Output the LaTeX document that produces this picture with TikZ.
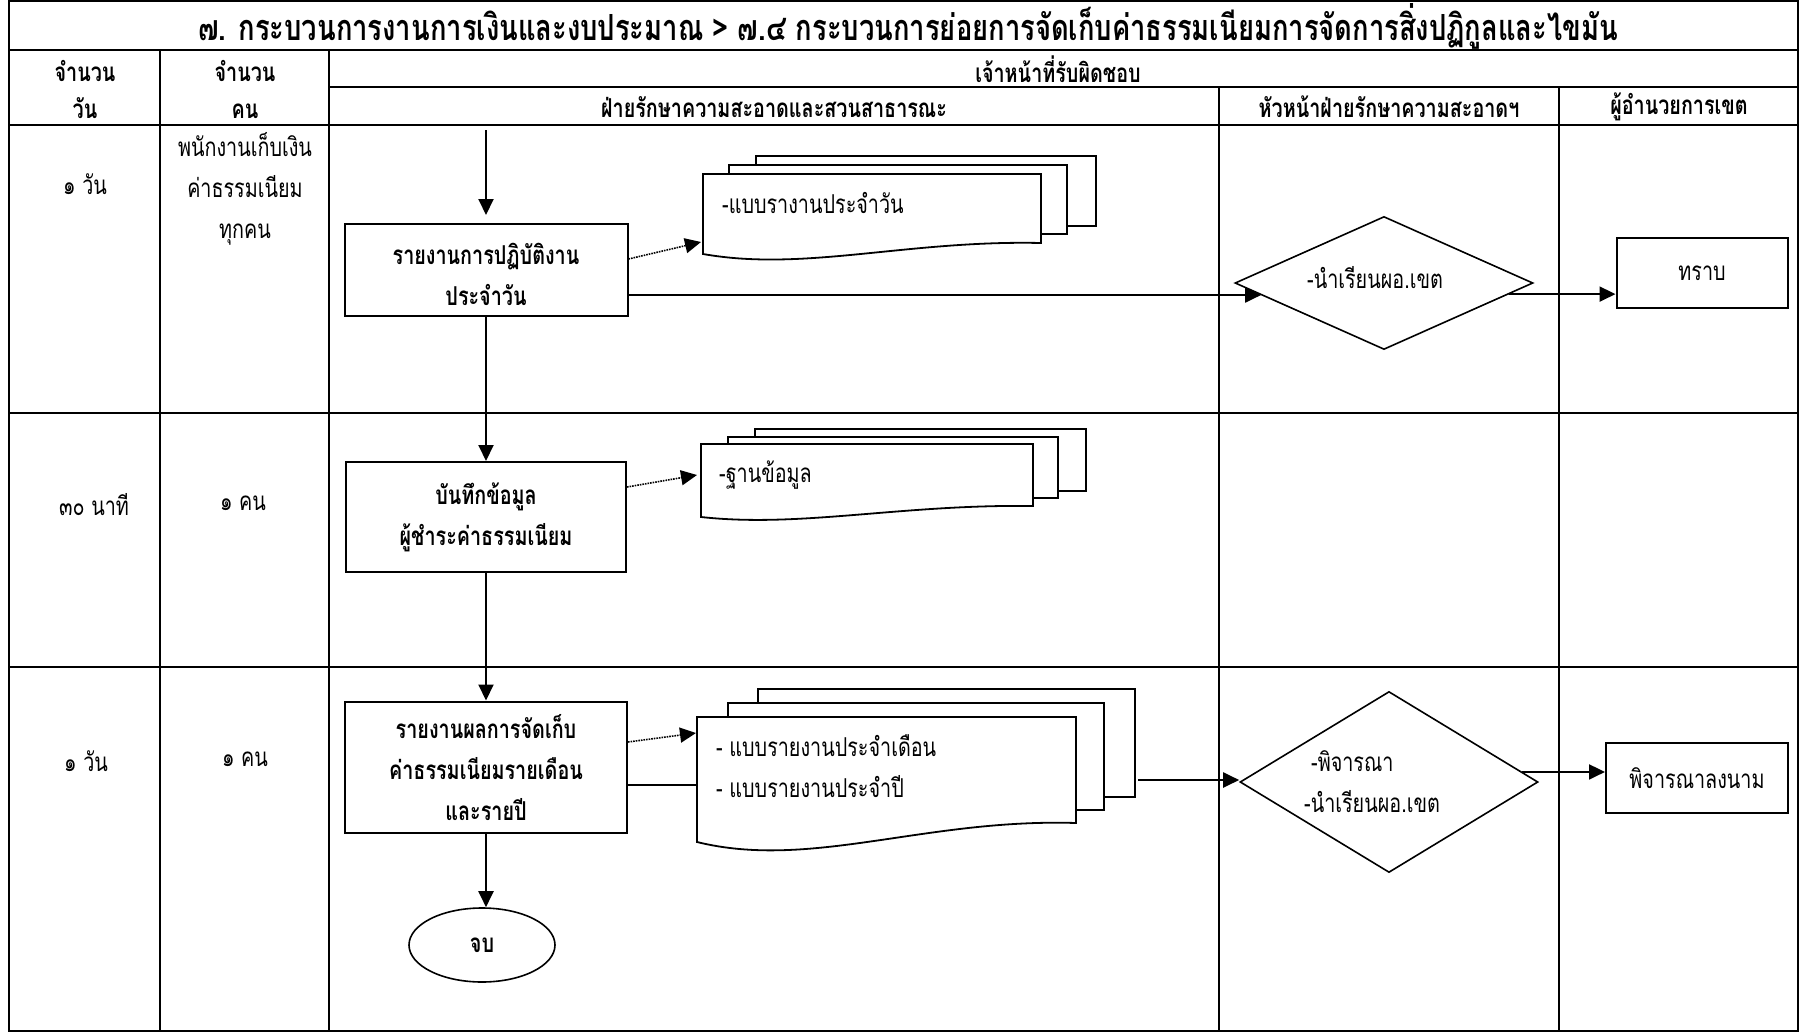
\documentclass[tikz,border=0pt]{standalone}
\usepackage{fontspec}
\usetikzlibrary{arrows.meta,shapes.geometric,calc}
\setmainfont{Loma}[Script=Thai,FakeStretch=0.76]
\newcommand{\bodysize}{\fontsize{26}{41}\selectfont}
\newcommand{\hdrsize}{\fontsize{26}{37}\selectfont}
\newcommand{\titlesize}{\fontsize{36}{40}\selectfont}
\tikzset{
  grid/.style={line width=2.5pt},
  flow/.style={line width=2pt},
  arr/.style={line width=2pt,-{Triangle[length=16pt,width=15pt]}},
  dotarr/.style={line width=1.6pt,densely dotted,-{Triangle[length=16pt,width=15pt]}},
  proc/.style={draw,line width=2pt,fill=white,align=center,font=\bodysize\bfseries,inner sep=0pt},
  plainbox/.style={draw,line width=2pt,fill=white,align=center,font=\bodysize,inner sep=0pt},
  dec/.style={diamond,draw,line width=1.6pt,fill=white,font=\bodysize,inner sep=0pt},
  hdr/.style={font=\hdrsize\bfseries,align=center,inner sep=0pt},
  cell/.style={font=\bodysize,align=center,inner sep=0pt},
  doctext/.style={font=\bodysize,anchor=west,align=left,inner sep=0pt},
  doclayer/.style={draw,line width=1.8pt,fill=white},
}
\newcommand{\docfront}[6]{%
  \path[doclayer] (#1,#2) -- (#3,#2) -- (#3,#5)
    .. controls ({#1+0.6*(#3-#1)},{#5-#6/6}) and ({#1+0.3*(#3-#1)},{#4+#6}) .. (#1,#4) -- cycle;}
\begin{document}
\begin{tikzpicture}[x=1pt,y=-1pt]
\useasboundingbox (0,0) rectangle (1800,1036);
% ---------- table ----------
\draw[grid] (9,1) rectangle (1798,1031);
\draw[grid] (9,50) -- (1798,50);
\draw[grid] (329,87) -- (1798,87);
\draw[grid] (9,125) -- (1798,125);
\draw[grid] (9,413) -- (1798,413);
\draw[grid] (9,667) -- (1798,667);
\draw[grid] (160,50) -- (160,1031);
\draw[grid] (329,50) -- (329,1031);
\draw[grid] (1219,87) -- (1219,1031);
\draw[grid] (1559,87) -- (1559,1031);
% ---------- header texts ----------
\node[hdr,font=\titlesize\bfseries] (title) at (908,26) {๗. กระบวนการงานการเงินและงบประมาณ > ๗.๔ กระบวนการย่อยการจัดเก็บค่าธรรมเนียมการจัดการสิ่งปฏิกูลและไขมัน};
\node[hdr] (h1) at (85,89) {จำนวน\\วัน};
\node[hdr] (h2) at (245,89) {จำนวน\\คน};
\node[hdr] (h3) at (1058,69) {เจ้าหน้าที่รับผิดชอบ};
\node[hdr] (h4) at (774,107) {ฝ่ายรักษาความสะอาดและสวนสาธารณะ};
\node[hdr] (h5) at (1389,107) {หัวหน้าฝ่ายรักษาความสะอาดฯ};
\node[hdr] (h6) at (1679,107) {ผู้อำนวยการเขต};
% ---------- row labels ----------
\node[cell] (r1a) at (85,184) {๑ วัน};
\node[cell] (r1b) at (245,189) {พนักงานเก็บเงิน\\ค่าธรรมเนียม\\ทุกคน};
\node[cell] (r2a) at (94,505) {๓๐ นาที};
\node[cell] (r2b) at (243,503) {๑ คน};
\node[cell] (r3a) at (86,761) {๑ วัน};
\node[cell] (r3b) at (245,759) {๑ คน};
% ---------- document stacks ----------
\path[doclayer] (756,156) rectangle (1096,226);
\path[doclayer] (729,165) rectangle (1067,234);
\docfront{703}{174}{1041}{254}{243}{18}
\node[doctext] (dt1) at (722,203) {-แบบรางานประจำวัน};
\path[doclayer] (755,429) rectangle (1086,491);
\path[doclayer] (728,437) rectangle (1058,498);
\docfront{701}{444}{1033}{517}{506}{11}
\node[doctext] (dt2) at (719,475) {-ฐานข้อมูล};
\path[doclayer] (758,689) rectangle (1135,797);
\path[doclayer] (728,703) rectangle (1104,810);
\docfront{697}{717}{1076}{842}{823}{28}
\node[doctext] (dt3) at (716,766) {- แบบรายงานประจำเดือน\\- แบบรายงานประจำปี};
% ---------- flow nodes ----------
\coordinate (s) at (486,130);
\node[proc,minimum width=283pt,minimum height=92pt] (b1) at (486,270) {\rule{0pt}{30pt}รายงานการปฏิบัติงาน\\ประจำวัน};
\node[proc,minimum width=280pt,minimum height=110pt] (b2) at (486,517) {บันทึกข้อมูล\\ผู้ชำระค่าธรรมเนียม};
\node[proc,minimum width=282pt,minimum height=131pt] (b3) at (486,767) {\rule{0pt}{26pt}รายงานผลการจัดเก็บ\\ค่าธรรมเนียมรายเดือน\\และรายปี};
\node[ellipse,draw,line width=1.6pt,fill=white,minimum width=146pt,minimum height=74pt,font=\bodysize\bfseries,inner sep=0pt] (e) at (482,945) {จบ};
\node[dec,aspect=2.24,minimum width=298pt,minimum height=133pt] (d1) at (1384,283) {-นำเรียนผอ.เขต\rule[-12pt]{18pt}{0pt}};
\node[dec,aspect=1.65,minimum width=298pt,minimum height=181pt,align=left] (d2) at (1389,782) {\hspace*{7pt}-พิจารณา\\-นำเรียนผอ.เขต\rule{34pt}{0pt}};
\node[plainbox,minimum width=171pt,minimum height=70pt] (t1) at (1702,273) {ทราบ};
\node[plainbox,minimum width=182pt,minimum height=70pt] (t2) at (1697,778) {พิจารณาลงนาม};
% ---------- connector end points ----------
\coordinate (dd1) at (701,242);
\coordinate (dd2) at (697,475);
\coordinate (dd3) at (696,733);
\coordinate (c3l) at (697,785);
\coordinate (c3r) at (1138,780);
\coordinate (h1s) at ($(b1.east)+(0,25)$);
\coordinate (d1a) at ($(d1.west)!0.18!(d1.south)$);
\coordinate (d1b) at ($(d1.east)!0.165!(d1.south)$);
\coordinate (d2a) at ($(d2.east)!0.11!(d2.north)$);
% ---------- connectors ----------
\draw[arr] (s) -- ($(b1.north)+(0,-8)$);
\draw[arr] (b1) -- (b2);
\draw[arr] (b2) -- (b3);
\draw[arr] (b3.south) -- (b3.south |- e.north);
\draw[dotarr] ($(b1.east)+(0,-11)$) -- (dd1);
\draw[dotarr] ($(b2.east)+(0,-30)$) -- (dd2);
\draw[dotarr] ($(b3.east)+(0,-25)$) -- (dd3);
\draw[flow] ($(b3.east)+(0,18)$) -- (c3l);
\draw[arr] (h1s) -- (d1a |- h1s);
\draw[arr] (d1b) -- (d1b -| t1.west);
\draw[arr] (c3r) -- (c3r -| d2.west);
\draw[arr] (d2a) -- (d2a -| t2.west);
\end{tikzpicture}
\end{document}
